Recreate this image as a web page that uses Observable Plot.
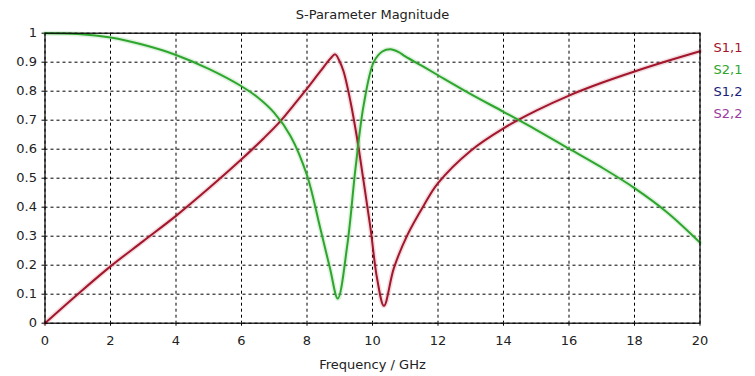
<!DOCTYPE html>
<html>
<head>
<meta charset="utf-8">
<script src="https://cdn.jsdelivr.net/npm/d3@7"></script>
<script src="https://cdn.jsdelivr.net/npm/@observablehq/plot@0.6"></script>
<style>
  html, body { margin: 0; padding: 0; background: #ffffff; }
  #chart svg { display: block; }
</style>
</head>
<body>
<div id="chart"></div>
<script>
// ---- data ----
const title = "S-Parameter Magnitude";
const xLabel = "Frequency / GHz";
const seriesNames = ["S1,1", "S2,1", "S1,2", "S2,2"];
const seriesColors = ["#a3162c", "#2ea62e", "#1c1c7a", "#9b3a9e"];

const xTicks = [0, 2, 4, 6, 8, 10, 12, 14, 16, 18, 20];
const yTicks = [0, 0.1, 0.2, 0.3, 0.4, 0.5, 0.6, 0.7, 0.8, 0.9, 1];

// S1,1 (red)
const freqS11 = [0, 1, 2, 3, 4, 5, 6, 6.68, 7.19, 7.6, 8.0, 8.41, 8.72, 8.86, 8.98, 9.12, 9.33, 9.53, 9.73, 9.94, 10.14, 10.35, 10.65, 11.06, 11.57, 12, 13, 14, 15, 16, 17, 18, 19, 20];
const magS11  = [0, 0.1, 0.196, 0.283, 0.37, 0.465, 0.565, 0.638, 0.697, 0.753, 0.809, 0.869, 0.913, 0.927, 0.907, 0.867, 0.763, 0.637, 0.488, 0.327, 0.154, 0.06, 0.189, 0.303, 0.407, 0.483, 0.595, 0.672, 0.733, 0.785, 0.829, 0.868, 0.904, 0.938];

// S2,1 (green)
const freqS21 = [0, 1, 2, 3, 4, 5, 6, 6.5, 7, 7.5, 8, 8.4, 8.7, 8.94, 9.23, 9.48, 9.73, 10.04, 10.3, 10.55, 10.8, 11, 11.5, 12, 13, 14, 15, 16, 17, 18, 19, 20];
const magS21  = [1.0, 0.997, 0.985, 0.96, 0.925, 0.877, 0.817, 0.778, 0.725, 0.645, 0.51, 0.33, 0.19, 0.085, 0.269, 0.533, 0.752, 0.901, 0.937, 0.945, 0.935, 0.92, 0.888, 0.855, 0.79, 0.729, 0.667, 0.602, 0.537, 0.466, 0.382, 0.278];

const rows = [
  ...freqS11.map((f, i) => ({f, v: magS11[i], s: "S1,1"})),
  ...freqS21.map((f, i) => ({f, v: magS21[i], s: "S2,1"}))
];

const font = "'DejaVu Sans', Verdana, sans-serif";

const chart = Plot.plot({
  width: 755,
  height: 376,
  marginLeft: 44.5,
  marginRight: 55.5,
  marginTop: 32.7,
  marginBottom: 53.3,
  style: {fontFamily: font, fontSize: "13px", color: "#222", background: "#fff"},
  x: {domain: [0, 20], ticks: xTicks, label: null},
  y: {domain: [0, 1], ticks: yTicks, label: null},
  color: {domain: seriesNames, range: seriesColors},
  marks: [
    Plot.gridX(xTicks, {stroke: "#000", strokeOpacity: 1, strokeDasharray: "3,3", strokeWidth: 1}),
    Plot.gridY(yTicks, {stroke: "#000", strokeOpacity: 1, strokeDasharray: "3,3", strokeWidth: 1}),
    Plot.axisX({ticks: xTicks, tickSize: 6, tickPadding: 7, stroke: "#000", strokeDasharray: "3,3", fontSize: 13, tickFormat: d => String(d)}),
    Plot.axisY({ticks: yTicks, tickSize: 6, tickPadding: 2, stroke: "#000", strokeDasharray: "3,3", fontSize: 13, tickFormat: d => String(+d.toFixed(1))}),
    Plot.line(rows, {x: "f", y: "v", z: "s", stroke: "s", strokeWidth: 5, strokeOpacity: 0.15, curve: "catmull-rom"}),
    Plot.line(rows, {x: "f", y: "v", z: "s", stroke: "s", strokeWidth: 2, curve: "catmull-rom"}),
    Plot.frame({stroke: "#000", strokeWidth: 1.2}),
    Plot.text([title], {frameAnchor: "top", dy: -18, fontSize: 13, fill: "#222", lineAnchor: "middle"}),
    Plot.text([xLabel], {frameAnchor: "bottom", dy: 42, fontSize: 13, fill: "#222", lineAnchor: "middle"}),
    ...seriesNames.map((name, i) => Plot.text([name], {
      frameAnchor: "top-right", textAnchor: "start", lineAnchor: "middle",
      dx: 13.5, dy: 15 + i * 22, fontSize: 13, fill: seriesColors[i]
    }))
  ]
});

document.getElementById("chart").appendChild(chart);
</script>
</body>
</html>
